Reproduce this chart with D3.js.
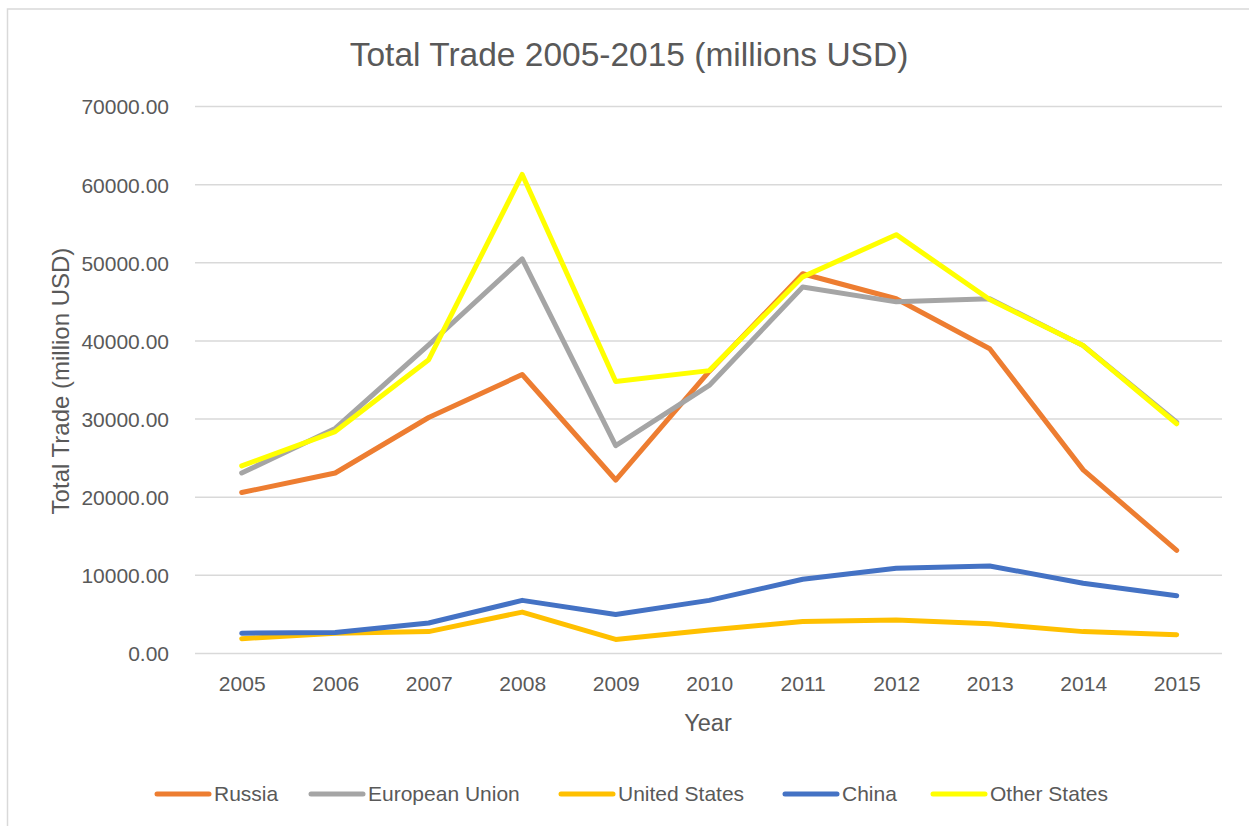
<!DOCTYPE html>
<html><head><meta charset="utf-8">
<script src="https://cdn.jsdelivr.net/npm/d3@7"></script>
<style>body{margin:0;background:#fff}svg{display:block}text{font-family:"Liberation Sans",Arial,sans-serif;fill:#595959}</style>
</head><body><svg id="c" width="1249" height="826"></svg>
<script>
const years = [2005,2006,2007,2008,2009,2010,2011,2012,2013,2014,2015];
const russia = [20600,23100,30200,35700,22200,36100,48600,45400,39000,23500,13200];
const eu = [23100,28800,39500,50500,26600,34300,46900,45000,45400,39400,29600];
const us = [1900,2600,2800,5300,1800,3000,4100,4300,3800,2800,2400];
const china = [2600,2700,3900,6800,5000,6800,9500,10900,11200,9000,7400];
const other = [24000,28400,37600,61300,34800,36200,48200,53600,45300,39400,29400];
const seriesNames = ["Russia","European Union","United States","China","Other States"];
const seriesColors = ["#ED7D31","#A5A5A5","#FFC000","#4472C4","#FFFF00"];
const yTicks = [0,10000,20000,30000,40000,50000,60000,70000];
const series = [russia,eu,us,china,other];

const svg = d3.select("#c");
svg.append("rect").attr("x",7.5).attr("y",9).attr("width",1300).attr("height",900)
  .attr("fill","#fff").attr("stroke","#d9d9d9").attr("stroke-width",1.5);

const x = d3.scalePoint().domain(years).range([241.7,1176.7]);
const y = d3.scaleLinear().domain([0,70000]).range([653.5,106.5]);

const grid = svg.append("g");
grid.selectAll("line").data(yTicks).join("line")
  .attr("x1",195).attr("x2",1222).attr("y1",d=>y(d)).attr("y2",d=>y(d))
  .attr("stroke","#d9d9d9").attr("stroke-width",1.5);

const yAxis = svg.append("g").attr("transform","translate(169,0)")
  .call(d3.axisLeft(y).tickValues(yTicks).tickFormat(d=>d3.format(".2f")(d)).tickSize(0).tickPadding(0));
yAxis.select(".domain").remove();
yAxis.selectAll("text").style("font-size","21px").style("fill","#595959").attr("dy","0.35em");

const xAxis = svg.append("g").attr("transform","translate(0,654)")
  .call(d3.axisBottom(x).tickSize(0).tickPadding(0));
xAxis.select(".domain").remove();
xAxis.selectAll("text").style("font-size","21px").style("fill","#595959").attr("y",30).attr("dy","0.35em");

svg.append("text").attr("x",629).attr("y",54).attr("dy","0.35em").attr("text-anchor","middle")
  .style("font-size","33.5px").text("Total Trade 2005-2015 (millions USD)");
svg.append("text").attr("x",708).attr("y",723).attr("dy","0.35em").attr("text-anchor","middle")
  .style("font-size","23.5px").text("Year");
svg.append("text").attr("transform","translate(61,381) rotate(-90)").attr("dy","0.35em").attr("text-anchor","middle")
  .style("font-size","24px").text("Total Trade (million USD)");

const line = d3.line().x((d,i)=>x(years[i])).y(d=>y(d));
svg.append("g").selectAll("path").data(series).join("path")
  .attr("d",d=>line(d)).attr("fill","none")
  .attr("stroke",(d,i)=>seriesColors[i]).attr("stroke-width",5)
  .attr("stroke-linejoin","round").attr("stroke-linecap","round");

const legendX = [157,311,561,785,933];
const lg = svg.append("g").selectAll("g").data(seriesNames).join("g")
  .attr("transform",(d,i)=>`translate(${legendX[i]},794)`);
lg.append("line").attr("x1",0).attr("x2",52).attr("stroke",(d,i)=>seriesColors[i])
  .attr("stroke-width",5).attr("stroke-linecap","round");
lg.append("text").attr("x",57).attr("dy","0.35em").style("font-size","21px").text(d=>d);
</script></body></html>
